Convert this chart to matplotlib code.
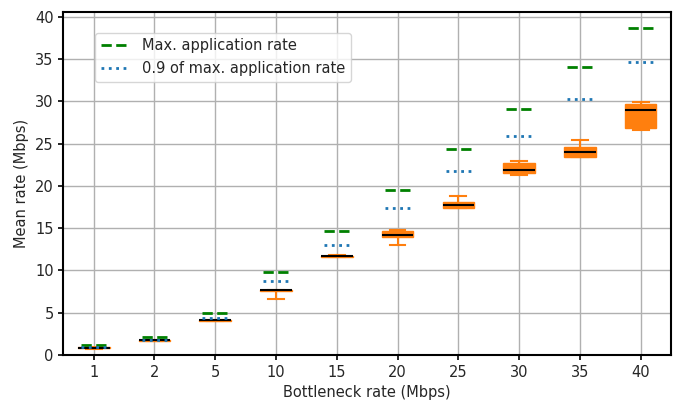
import matplotlib
matplotlib.use('Agg')
import matplotlib.pyplot as plt
import numpy as np

plt.rcParams['font.size'] = 10.5
plt.rcParams['text.color'] = '#262626'
plt.rcParams['axes.labelcolor'] = '#262626'
plt.rcParams['xtick.labelcolor'] = '#262626'
plt.rcParams['ytick.labelcolor'] = '#262626'

# bottleneck rates (categories) and read-off values
bottleneck = ['1', '2', '5', '10', '15', '20', '25', '30', '35', '40']
max_app_rate = [1.15, 2.15, 5.0, 9.85, 14.65, 19.5, 24.3, 29.1, 34.0, 38.7]
app_rate_90 = [0.95, 1.8, 4.35, 8.7, 13.0, 17.35, 21.7, 25.95, 30.3, 34.7]

# box statistics of mean rate per bottleneck rate
med = [0.88, 1.72, 4.08, 7.69, 11.73, 14.2, 17.78, 21.87, 24.03, 29.0]
q1 = [0.8, 1.7, 4.05, 7.6, 11.62, 13.98, 17.38, 21.55, 23.44, 26.8]
q3 = [0.9, 1.74, 4.1, 7.72, 11.76, 14.65, 18.05, 22.65, 24.6, 29.67]
whislo = [0.75, 1.68, 4.02, 6.63, 11.58, 13.0, 17.35, 21.25, 23.37, 26.63]
whishi = [0.92, 1.76, 4.12, 7.74, 11.78, 14.75, 18.83, 22.95, 25.45, 29.94]

stats = []
for i in range(len(bottleneck)):
    stats.append({'med': med[i], 'q1': q1[i], 'q3': q3[i],
                  'whislo': whislo[i], 'whishi': whishi[i], 'fliers': []})

pos = np.arange(1, len(bottleneck) + 1)

fig = plt.figure(figsize=(6.78, 4.0), dpi=100)
ax = fig.add_axes([0.0934, 0.1125, 0.8963, 0.8585])

orange = '#ff7f0e'
ax.bxp(stats, positions=pos, widths=0.52, patch_artist=True,
       boxprops=dict(facecolor=orange, edgecolor=orange, linewidth=1),
       whiskerprops=dict(color=orange, linewidth=1.5),
       capprops=dict(color=orange, linewidth=1.5),
       medianprops=dict(color='black', linewidth=1.5),
       showfliers=False, zorder=3)

# short horizontal markers at each category
for i, p in enumerate(pos):
    ax.plot([p - 0.21, p + 0.21], [max_app_rate[i], max_app_rate[i]], color='green',
            linestyle='--', linewidth=2, zorder=4,
            label='Max. application rate' if i == 0 else None)
    ax.plot([p - 0.21, p + 0.21], [app_rate_90[i], app_rate_90[i]], color='#1f77b4',
            linestyle=':', linewidth=2, zorder=4,
            label='0.9 of max. application rate' if i == 0 else None)

ax.set_xticks(pos)
ax.set_xticklabels(bottleneck)
ax.set_xlim(0.5, 10.5)
ax.set_ylim(0, 40.6)
ax.set_yticks(range(0, 41, 5))
ax.grid(True, color='#b0b0b0', linewidth=1, zorder=0)
ax.set_axisbelow(True)

for s in ax.spines.values():
    s.set_linewidth(1.5)
ax.tick_params(width=1.2)

ax.set_xlabel('Bottleneck rate (Mbps)')
ax.set_ylabel('Mean rate (Mbps)')
ax.legend(loc='upper left', bbox_to_anchor=(0.04, 0.96))

fig.savefig('out.png', dpi=100)
